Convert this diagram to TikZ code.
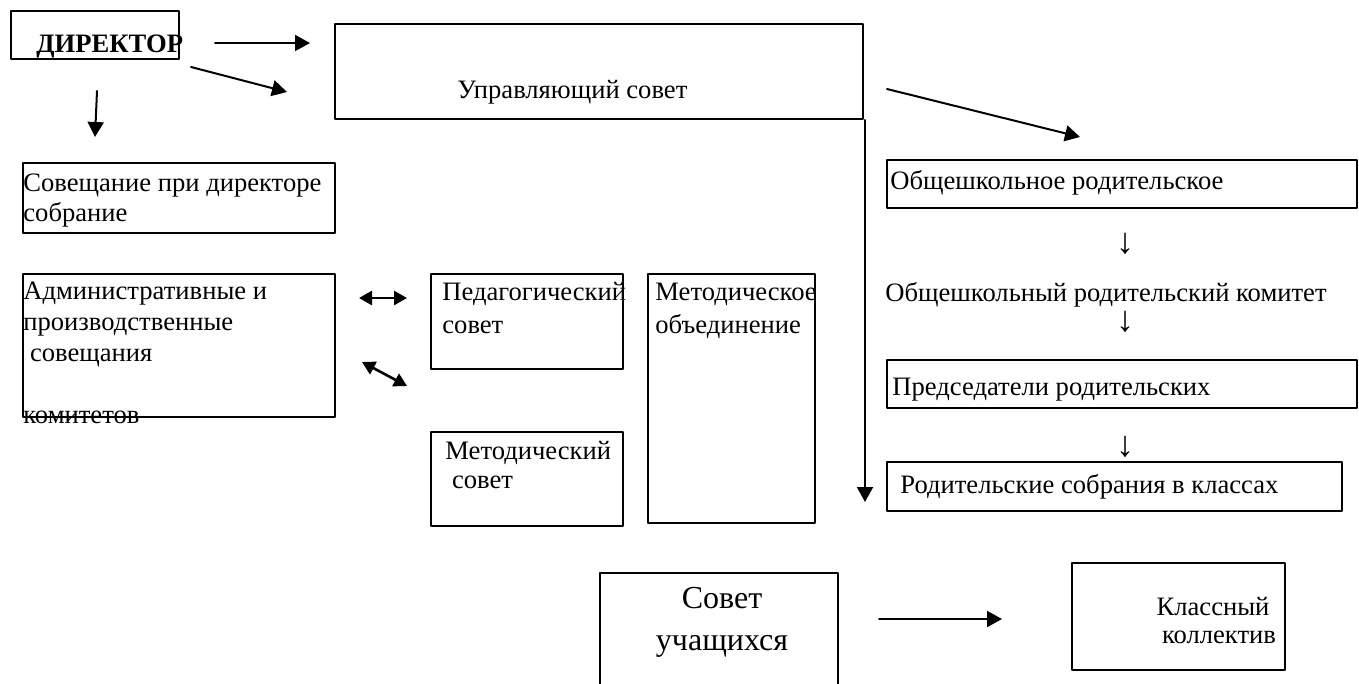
\documentclass[tikz,border=0pt]{standalone}
\usepackage{fontspec}
\setmainfont{Liberation Serif}
\usepackage{tikz}
\usetikzlibrary{positioning,calc,arrows.meta}

\begin{document}
\begin{tikzpicture}[
		x=0.5pt,y=-0.5pt,
		line cap=round,line join=round,
		box/.style={draw=black, line width=0.8pt},
		lbl/.style={inner sep=0pt, anchor=base west, align=left,
			font=\fontsize{13.3}{15.5}\selectfont},
		pil/.style={line width=1pt, -{Triangle[length=7.5pt,width=8pt]}},
		dpil/.style={line width=1.3pt, {Triangle[length=6.5pt,width=7pt]}-{Triangle[length=6.5pt,width=7pt]}}
		]
		% ---- page
		\useasboundingbox (0,0) rectangle (1359,684);
		
		% ---- boxes
		\draw[box] (11,11) rectangle (179,59);      % директор
		\draw[box] (335,24) rectangle (863,119);    % управляющий совет
		\draw[box] (23,163) rectangle (335,233);    % совещание
		\draw[box] (23,274) rectangle (335,417);    % адм. совещания
		\draw[box] (431,274) rectangle (623,369);   % пед. совет
		\draw[box] (648,274) rectangle (815,523);   % метод. объединение
		\draw[box] (431,432) rectangle (623,526);   % метод. совет
		\draw[box] (887,160) rectangle (1357,208);  % общешк. род.
		\draw[box] (887,360) rectangle (1357,408);  % председатели
		\draw[box] (887,462) rectangle (1342,511);  % собрания в классах
		\draw[box] (600,684) -- (600,573) -- (838,573) -- (838,684); % совет учащихся
		\draw[box] (1072,563) rectangle (1285,670); % классный коллектив
		
		% ---- texts (multi-line ones sit on their last baseline)
		\node[lbl, font=\fontsize{13.3}{15.5}\selectfont\bfseries] (dir) at (36,53) {ДИРЕКТОР};
		\node[lbl] (us) at (457,99) {Управляющий совет};
		\node[lbl, font=\fontsize{13.3}{15}\selectfont] (sov) at (23,222) {Совещание при директоре\\собрание};
		\node[lbl] (adm) at (23,423) {Административные и\\производственные\\\hspace*{3.3pt}совещания\\[15.5pt]комитетов};
		\node[lbl, font=\fontsize{13.3}{16.5}\selectfont] (ped) at (442,333) {Педагогический\\совет};
		\node[lbl, font=\fontsize{13.3}{16.5}\selectfont] (mo) at (655,333) {Методическое\\объединение};
		\node[lbl, font=\fontsize{13.3}{14.5}\selectfont] (ms) at (445,488) {Методический\\\hspace*{3.3pt}совет};
		\node[lbl] (orp) at (890,190) {Общешкольное родительское};
		\node[lbl] (ork) at (885,301) {Общешкольный родительский комитет};
		\node[lbl] (pred) at (892,395) {Председатели родительских};
		\node[lbl] (rsk) at (900,493) {Родительские собрания в классах};
		\node[inner sep=0pt, anchor=base, align=center, font=\fontsize{16}{21}\selectfont] (su) at (722,650) {Совет\\учащихся};
		\node[inner sep=0pt, anchor=base, align=center, font=\fontsize{13.3}{14}\selectfont] (kk) at (1213,643) {Классный\\\hspace*{6pt}коллектив};
		
		% small arrows in the parents column
		\foreach \y/\n in {244/a,322/b,447/c}{
			\node[font=\fontsize{18}{18}\selectfont, inner sep=0pt] (down\n) at (1125,\y) {↓};
		}
		
		% ---- arrow ends
		\coordinate (d1s) at (215,43);   \coordinate (d1e) at (310,43);
		\coordinate (d2s) at (191,67);   \coordinate (d2e) at (287,92);
		\coordinate (d3s) at (97,91);    \coordinate (d3e) at (95,137);
		\coordinate (u1s) at (865,120);  \coordinate (u1e) at (865,502);
		\coordinate (u2s) at (887,89);   \coordinate (u2e) at (1080,137);
		\coordinate (h1s) at (359,298);  \coordinate (h1e) at (407,298);
		\coordinate (h2s) at (362,362);  \coordinate (h2e) at (407,386);
		\coordinate (s1s) at (879,619);  \coordinate (s1e) at (1002,619);
		
		% ---- arrows
		\draw[pil] (d1s) -- (d1e);
		\draw[pil] (d2s) -- (d2e);
		\draw[pil] (d3s) -- (d3e);
		\draw[pil] (u1s) -- (u1e);
		\draw[pil] (u2s) -- (u2e);
		\draw[pil] (s1s) -- (s1e);
		\draw[dpil] (h1s) -- (h1e);
		\draw[dpil] (h2s) -- (h2e);
	\end{tikzpicture}
\end{document}
